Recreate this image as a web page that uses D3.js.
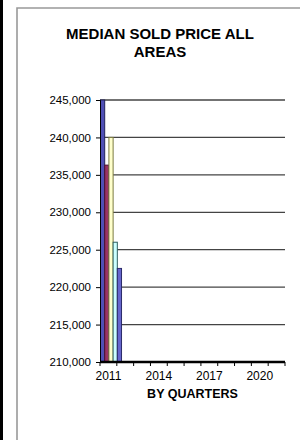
<!DOCTYPE html>
<html>
<head>
<meta charset="utf-8">
<script src="https://cdn.jsdelivr.net/npm/d3@7"></script>
<style>
  body { margin: 0; background: #fff; }
  svg { display: block; font-family: "Liberation Sans", Arial, sans-serif; }
</style>
</head>
<body>
<svg id="chart"></svg>
<script>
// data
const years = ["2011", "2012", "2013", "2014", "2015", "2016", "2017", "2018", "2019", "2020", "2021"];
const yearLabels = ["2011", "2014", "2017", "2020"];
const barYears = ["2011", "2011", "2011", "2011", "2012"];
const barQuarters = [1, 2, 3, 4, 1];
const barValues = [245000, 236300, 240000, 226000, 222500];
const barColors = ["#4f4fb5", "#993366", "#ffffcc", "#ccffff", "#6666cc"];
const barEdges = ["#22225a", "#4a1030", "#7a7a40", "#2f5f5f", "#2a2a6a"];
const yTicks = [210000, 215000, 220000, 225000, 230000, 235000, 240000, 245000];
const titleLines = ["MEDIAN SOLD PRICE ALL", "AREAS"];

function drawChart() {
  const spec = {
    width: 300,
    height: 440,
    plot: { left: 100, right: 285, top: 100, bottom: 362 }
  };

  const svg = d3.select("#chart").attr("width", spec.width).attr("height", spec.height);

  svg.append("rect").attr("width", spec.width).attr("height", spec.height).attr("fill", "#fff");

  // outer frame
  svg.append("line").attr("x1", 1.5).attr("x2", 1.5).attr("y1", 0).attr("y2", spec.height)
    .attr("stroke", "#000").attr("stroke-width", 3);
  svg.append("path").attr("d", "M17,445 L17,8 L305,8")
    .attr("fill", "none").attr("stroke", "#999").attr("stroke-width", 1.6);

  // title
  svg.append("text")
    .attr("x", 160).attr("text-anchor", "middle")
    .attr("font-size", 15).attr("font-weight", "bold")
    .selectAll("tspan").data(titleLines).join("tspan")
    .attr("x", 160).attr("y", (d, i) => 39 + i * 18).text(d => d);

  const x = d3.scaleBand().domain(years).range([spec.plot.left, spec.plot.right]).padding(0);
  const y = d3.scaleLinear().domain([210000, 245000]).range([spec.plot.bottom, spec.plot.top]);

  // gridlines
  svg.append("g").selectAll("line").data(yTicks.filter(d => d > 210000)).join("line")
    .attr("x1", spec.plot.left).attr("x2", spec.plot.right)
    .attr("y1", d => y(d)).attr("y2", d => y(d))
    .attr("stroke", "#444").attr("stroke-width", 1.3);

  // bars (one per quarter)
  const q = x.bandwidth() / 4;
  const bars = svg.append("g").selectAll("g").data(barValues).join("g");
  bars.append("rect")
    .attr("x", (d, i) => x(barYears[i]) + (barQuarters[i] - 1) * q + 0.5)
    .attr("y", d => y(d))
    .attr("width", q)
    .attr("height", d => y(210000) - y(d))
    .attr("fill", (d, i) => barColors[i])
    .attr("stroke", (d, i) => barEdges[i])
    .attr("stroke-width", 1);

  // y axis
  const yAxis = svg.append("g")
    .attr("transform", `translate(${spec.plot.left},0)`)
    .call(d3.axisLeft(y).tickValues(yTicks).tickSize(4).tickPadding(5)
      .tickFormat(d3.format(",")));
  yAxis.select(".domain").attr("stroke", "#000");
  yAxis.selectAll("text").attr("font-size", 11.5).attr("fill", "#000")
    .attr("font-family", "'Liberation Sans', Arial, sans-serif");

  // x axis: ticks on category boundaries, labels every third year
  const xAxis = svg.append("g").attr("transform", `translate(0,${spec.plot.bottom})`);
  xAxis.append("line").attr("x1", spec.plot.left).attr("x2", spec.plot.right)
    .attr("stroke", "#000").attr("stroke-width", 2.5);
  const bounds = years.map(d => x(d)).concat([spec.plot.right]);
  xAxis.selectAll(".tk").data(bounds).join("line").attr("class", "tk")
    .attr("x1", d => d).attr("x2", d => d).attr("y1", 0).attr("y2", 4)
    .attr("stroke", "#000");
  xAxis.selectAll(".lb").data(yearLabels).join("text").attr("class", "lb")
    .attr("x", d => x(d) + x.bandwidth() / 2).attr("y", 18)
    .attr("text-anchor", "middle").attr("font-size", 12).text(d => d);

  svg.append("text")
    .attr("x", (spec.plot.left + spec.plot.right) / 2).attr("y", 398)
    .attr("text-anchor", "middle").attr("font-size", 12.5).attr("font-weight", "bold")
    .text("BY QUARTERS");
}

drawChart();
</script>
</body>
</html>
